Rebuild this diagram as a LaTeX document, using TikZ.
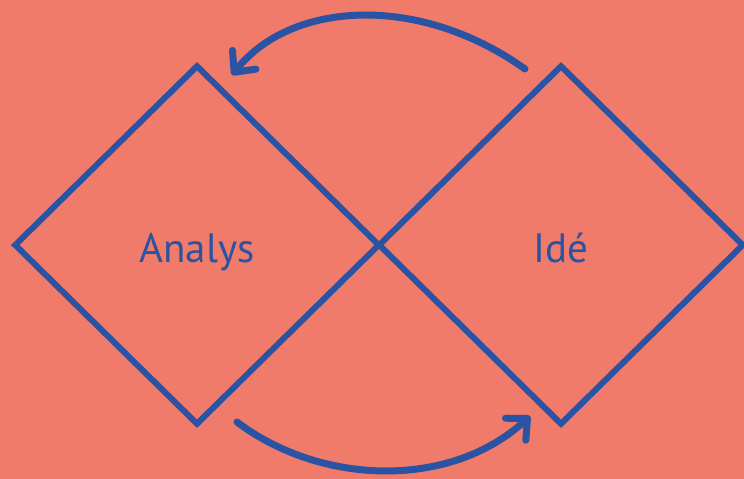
\documentclass[tikz,border=0pt]{standalone}
\usepackage{fontspec}
\setmainfont{PT Sans}
\usetikzlibrary{shapes.geometric,arrows.meta}
\definecolor{bgsalmon}{HTML}{F07B6A}
\definecolor{inkblue}{HTML}{2B53A4}
\tikzset{
  phase/.style={diamond, draw=inkblue, line width=6pt, inner sep=0pt,
    minimum width=366pt, minimum height=360pt, text=inkblue,
    font=\fontsize{41pt}{48pt}\selectfont, line join=miter,
    text height=34pt, text depth=0pt},
  cycle/.style={draw=inkblue, line width=7pt, line cap=round,
    -{Straight Barb[round, length=16pt, width=30pt]}}
}
\begin{document}
\begin{tikzpicture}[x=1pt, y=-1pt]
  \fill[bgsalmon] (0,0) rectangle (744,479);
  \useasboundingbox (0,0) rectangle (744,479);
  \node[phase] (analys) at (197,245) {Analys};
  \node[phase] (ide) at (561,245) {Idé};
  \coordinate (topstart) at (525,69);
  \coordinate (toptip) at (232,75);
  \coordinate (botstart) at (237,422);
  \coordinate (bottip) at (530,416);
  \draw[cycle] (topstart) .. controls (420,-6) and (292,0) .. (toptip);
  \draw[cycle] (botstart) .. controls (320,485) and (450,490) .. (bottip);
\end{tikzpicture}
\end{document}
